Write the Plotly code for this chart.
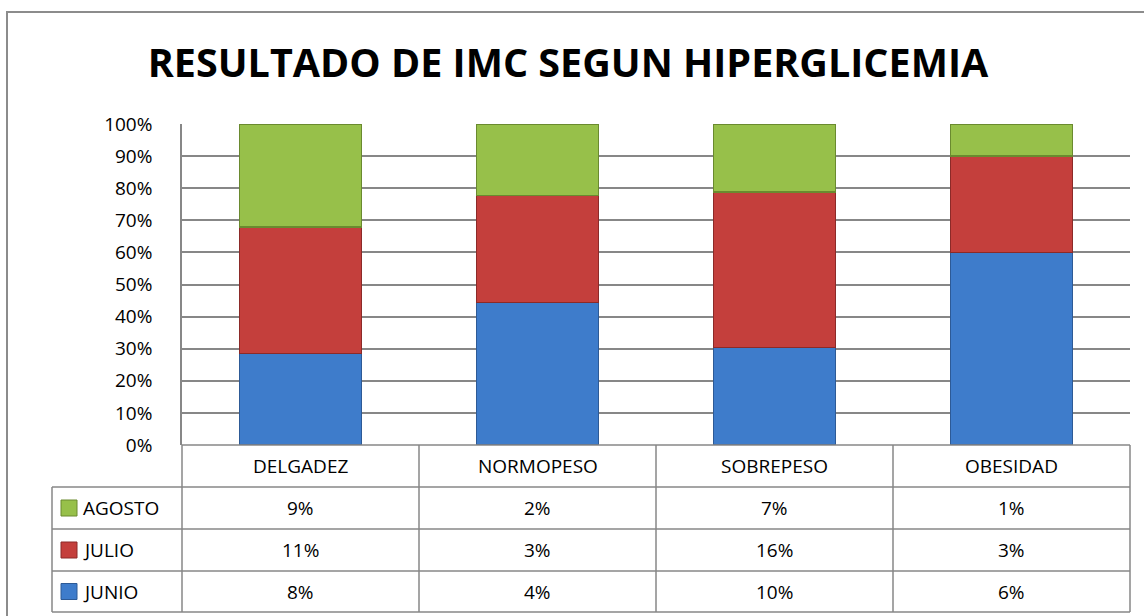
import plotly.graph_objects as go

categories = ["DELGADEZ", "NORMOPESO", "SOBREPESO", "OBESIDAD"]
series_names = ["JUNIO", "JULIO", "AGOSTO"]
junio = [8, 4, 10, 6]
julio = [11, 3, 16, 3]
agosto = [9, 2, 7, 1]
series_values = [junio, julio, agosto]
series_colors = ["#3E7CCB", "#C43F3C", "#97C04A"]
series_edges = ["#2D5A96", "#8C2A28", "#6A8A2F"]
y_ticks = [0, 10, 20, 30, 40, 50, 60, 70, 80, 90, 100]
y_tick_labels = [f"{t}%" for t in y_ticks]
title_text = "RESULTADO DE IMC SEGUN HIPERGLICEMIA"

W, H = 1144, 616
L, R, T, B = 182, 1130, 124, 445
PW, PH = R - L, B - T
FONT = "Open Sans, Lato, sans-serif"
GRID = "#878787"


def px_x(px):
    return (px - L) / PW


def px_y(py):
    return (B - py) / PH


fig = go.Figure()
for name, vals, col, edge in zip(series_names, series_values, series_colors, series_edges):
    fig.add_trace(go.Bar(
        x=categories, y=vals, name=name,
        marker=dict(color=col, line=dict(color=edge, width=1.5)),
        showlegend=False, hoverinfo="skip",
    ))

shapes = []
annotations = []

shapes.append(dict(type="rect", xref="paper", yref="paper",
                   x0=px_x(7), x1=px_x(1160), y0=px_y(12), y1=px_y(640),
                   line=dict(color="#8C8C8C", width=2), layer="below"))

header_top, row_lines = 445, [487, 529, 571, 612]
col_edges = [L + i * PW / len(categories) for i in range(len(categories) + 1)]
label_left = 52

for yy in row_lines:
    shapes.append(dict(type="line", xref="paper", yref="paper",
                       x0=px_x(label_left), x1=px_x(R), y0=px_y(yy), y1=px_y(yy),
                       line=dict(color=GRID, width=1.5)))
shapes.append(dict(type="line", xref="paper", yref="paper",
                   x0=px_x(L), x1=px_x(R), y0=px_y(header_top), y1=px_y(header_top),
                   line=dict(color=GRID, width=1.5)))
for xx in col_edges:
    shapes.append(dict(type="line", xref="paper", yref="paper",
                       x0=px_x(xx), x1=px_x(xx), y0=px_y(header_top), y1=px_y(row_lines[-1]),
                       line=dict(color=GRID, width=1.5)))
shapes.append(dict(type="line", xref="paper", yref="paper",
                   x0=px_x(label_left), x1=px_x(label_left), y0=px_y(row_lines[0]), y1=px_y(row_lines[-1]),
                   line=dict(color=GRID, width=1.5)))

for c in categories:
    annotations.append(dict(x=c, xref="x", y=px_y((header_top + row_lines[0]) / 2), yref="paper",
                            text=c, showarrow=False, xanchor="center", yanchor="middle",
                            font=dict(family=FONT, size=19, color="#000000")))

row_order = [2, 1, 0]
for r, si in enumerate(row_order):
    top, bot = row_lines[r], row_lines[r + 1]
    cy = (top + bot) / 2
    for c, v in zip(categories, series_values[si]):
        annotations.append(dict(x=c, xref="x", y=px_y(cy), yref="paper",
                                text=f"{v}%", showarrow=False, xanchor="center", yanchor="middle",
                                font=dict(family=FONT, size=19, color="#000000")))
    annotations.append(dict(x=px_x(81), xref="paper", y=px_y(cy), yref="paper",
                            text=series_names[si], showarrow=False, xanchor="left", yanchor="middle",
                            font=dict(family=FONT, size=19, color="#000000")))
    shapes.append(dict(type="rect", xref="paper", yref="paper",
                       x0=px_x(61), x1=px_x(77), y0=px_y(cy - 8), y1=px_y(cy + 8),
                       fillcolor=series_colors[si], line=dict(color=series_edges[si], width=1)))

fig.update_layout(
    width=W, height=H,
    margin=dict(l=L, r=W - R, t=T, b=H - B, pad=0),
    paper_bgcolor="white", plot_bgcolor="white",
    barmode="stack", barnorm="percent", bargap=0.485,
    title=dict(text=f"<b>{title_text}</b>", x=568 / W, xanchor="center",
               y=1 - 63 / H, yanchor="middle",
               font=dict(family=FONT, size=39.5, color="#000000")),
    font=dict(family=FONT, size=19, color="#000000"),
    xaxis=dict(showticklabels=False, showgrid=False, zeroline=False, showline=False,
               ticks=""),
    yaxis=dict(range=[0, 100], tickvals=y_ticks, ticktext=y_tick_labels,
               showgrid=True, gridcolor=GRID, gridwidth=1.5, zeroline=False,
               showline=True, linecolor=GRID, linewidth=1.5,
               ticks="outside", ticklen=24, tickcolor="rgba(0,0,0,0)",
               tickfont=dict(family=FONT, size=19, color="#000000")),
    shapes=shapes, annotations=annotations,
)

fig.write_html("out.html", config={"displayModeBar": False},
               post_script="document.body.style.margin='0px';document.body.style.overflow='hidden';")
